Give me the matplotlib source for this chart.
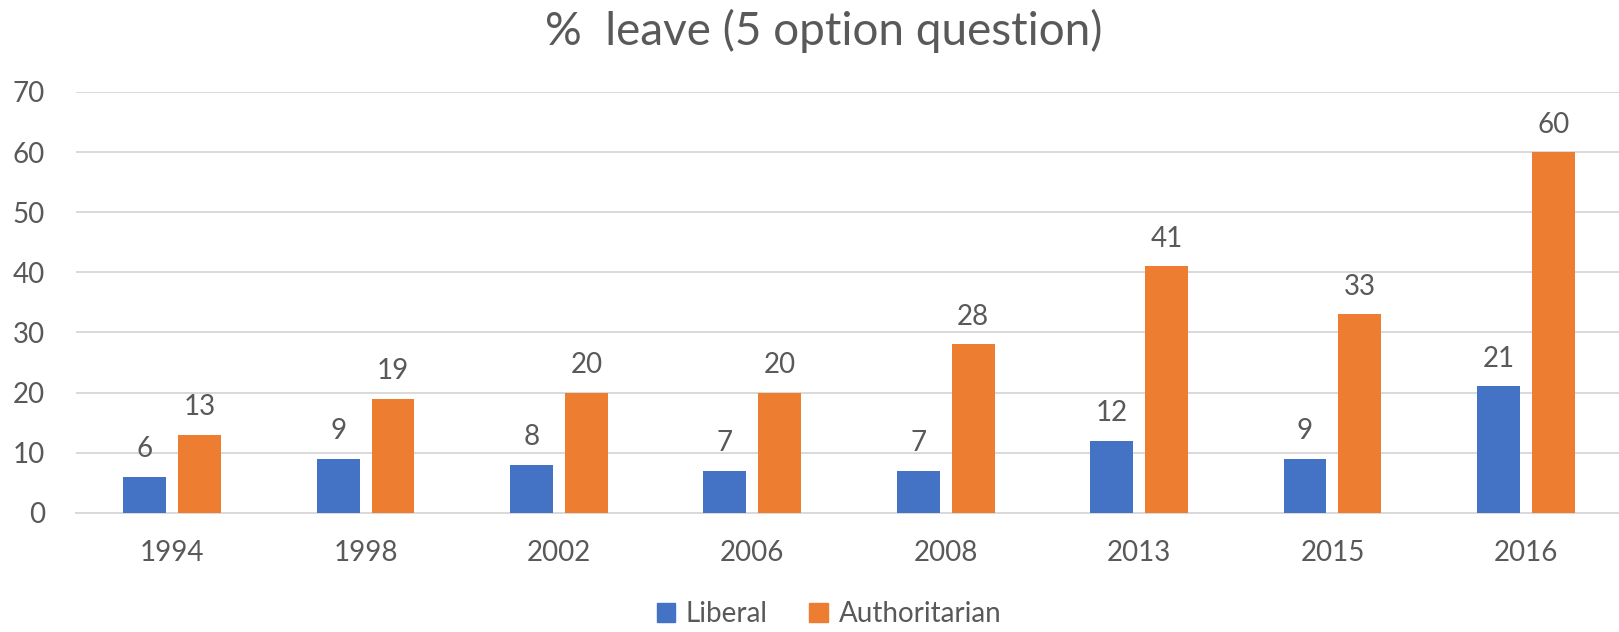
import matplotlib.pyplot as plt
import numpy as np
from matplotlib.patches import Patch

years = ["1994", "1998", "2002", "2006", "2008", "2013", "2015", "2016"]
liberal = [6, 9, 8, 7, 7, 12, 9, 21]
authoritarian = [13, 19, 20, 20, 28, 41, 33, 60]

titulo = "%  leave (5 option question)"
azul = "#4472C4"
laranja = "#ED7D31"
cinza = "#595959"

plt.rcParams["font.family"] = ["Lato", "DejaVu Sans"]

fig = plt.figure(figsize=(16.19, 6.32), dpi=100)
ax = fig.add_axes([75.5 / 1619, 119.3 / 632, 1547 / 1619, 420.7 / 632])

x = np.arange(len(years))
w = 0.222
d = 0.142
b1 = ax.bar(x - d, liberal, w, color=azul, zorder=3)
b2 = ax.bar(x + d, authoritarian, w, color=laranja, zorder=3)

# rótulos em cima das barras
for barras in (b1, b2):
    for r in barras:
        ax.annotate(str(int(r.get_height())), (r.get_x() + r.get_width() / 2, r.get_height()),
                    xytext=(0, 14), textcoords="offset points", ha="center", va="baseline",
                    fontsize=20, color=cinza)

ax.set_xlim(-0.5, 7.5)
ax.set_ylim(0, 70)
ax.set_yticks(range(0, 71, 10))
ax.set_xticks(x)
ax.set_xticklabels(years)
ax.grid(axis="y", color="#D9D9D9", linewidth=1.4, zorder=0)
ax.tick_params(axis="both", length=0, labelsize=20, labelcolor=cinza)
ax.tick_params(axis="y", pad=22)
ax.tick_params(axis="x", pad=20)
for lado in ["top", "right", "left"]:
    ax.spines[lado].set_visible(False)
ax.spines["bottom"].set_color("#D9D9D9")
ax.spines["bottom"].set_linewidth(1.4)

fig.text(824 / 1619, 1 - 31 / 632, titulo, ha="center", va="center", fontsize=33, color=cinza)

handles = [Patch(color=azul, label="Liberal"), Patch(color=laranja, label="Authoritarian")]
fig.legend(handles=handles, loc="center", bbox_to_anchor=(829 / 1619, 1 - 614 / 632), ncol=2,
           frameon=False, fontsize=20, labelcolor=cinza, handlelength=0.65, handleheight=0.65,
           handletextpad=0.4, columnspacing=1.5)

plt.savefig("out.png", dpi=100)
